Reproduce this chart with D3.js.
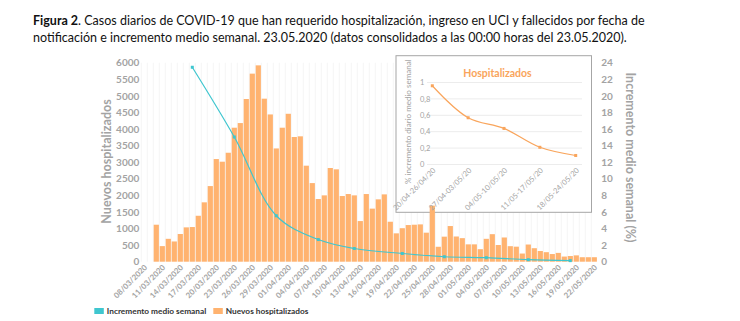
<!DOCTYPE html>
<html>
<head>
<meta charset="utf-8">
<script src="https://cdn.jsdelivr.net/npm/d3@7"></script>
<style>
  body { margin: 0; background: #fff; }
  text { font-family: Lato, "Noto Sans", sans-serif; }
</style>
</head>
<body>
<script>
// ---- datos ----
const fechas = d3.timeDay.range(new Date(2020, 2, 8), new Date(2020, 4, 23)).map(d3.timeFormat('%d/%m/%Y'));

// nuevos hospitalizados por fecha de notificación (08/03 .. 22/05)
const nuevos = [0, 0, 1115, 470, 690, 610, 835, 1035, 1045, 1385, 1790, 2280, 3095, 3015, 3285, 4040, 4180, 4905, 5670, 5920,
	4915, 4440, 3415, 4040, 4460, 3760, 3780, 2895, 2370, 1890, 2000, 2825, 2785, 1980, 2040, 2000, 1225, 2040, 1600, 1880,
	2030, 1205, 855, 1010, 1105, 1115, 1125, 875, 1690, 450, 755, 1075, 760, 710, 523, 523, 377, 690, 830, 503,
	730, 468, 453, 246, 518, 407, 322, 287, 231, 266, 155, 171, 191, 135, 135, 135];

// incremento medio semanal (%)
const fechasInc = ['16/03/2020', '23/03/2020', '30/03/2020', '06/04/2020', '12/04/2020', '20/04/2020', '27/04/2020', '04/05/2020', '11/05/2020', '18/05/2020'];
const incremento = [23.45, 15.04, 5.54, 2.67, 1.59, 0.99, 0.6, 0.48, 0.24, 0.13];

// recuadro: % incremento diario medio semanal
const semanas = ['20/04-26/04/20', '27/04-03/05/20', '04/05-10/05/20', '11/05-17/05/20', '18/05-24/05/20'];
const incSemanal = [0.96, 0.57, 0.44, 0.21, 0.11];

const ticksIzq = d3.range(0, 6001, 500);
const ticksDer = d3.range(0, 25, 2);
const ticksRecuadro = [0, 0.2, 0.4, 0.6, 0.8, 1];

// ---- svg ----
const W = 740, H = 321;
const naranja = '#ffb370', cian = '#3fc6cf', gris = '#a3a3a3';
const svg = d3.select('body').append('svg').attr('width', W).attr('height', H);

// título
const t1 = svg.append('text').attr('x', 33).attr('y', 25).style('font-size', '12.5px').attr('fill', '#111');
t1.append('tspan').attr('font-weight', 'bold').text('Figura 2');
t1.append('tspan').text('. Casos diarios de COVID-19 que han requerido hospitalización, ingreso en UCI y fallecidos por fecha de');
svg.append('text').attr('x', 33).attr('y', 42).style('font-size', '12.5px').attr('fill', '#111')
	.text('notificación e incremento medio semanal. 23.05.2020 (datos consolidados a las 00:00 horas del 23.05.2020).');

// escalas
const x = d3.scaleBand().domain(fechas).range([141.3, 597.3]);
const yL = d3.scaleLinear().domain([0, 6000]).range([261.7, 62.7]);
const yR = d3.scaleLinear().domain([0, 24]).range([261.7, 62.7]);
const cx = d => x(d) + x.bandwidth() / 2;

// líneas verticales muy tenues
svg.append('g').selectAll('line').data(fechas).join('line')
	.attr('x1', d => x(d)).attr('x2', d => x(d))
	.attr('y1', 62.7).attr('y2', 261.7)
	.attr('stroke', '#f5f5f5');

// recuadro (fondo blanco detrás de las barras)
const box = {x: 396, y: 55.7, w: 195.5, h: 156.6};
svg.append('rect').attr('x', box.x).attr('y', box.y).attr('width', box.w).attr('height', box.h)
	.attr('fill', '#fff').attr('stroke', '#a6a6a6').attr('stroke-width', 1);

// barras
svg.append('g').selectAll('rect').data(fechas).join('rect')
	.attr('x', d => x(d) + 0.4)
	.attr('width', x.bandwidth() - 0.8)
	.attr('y', (d, i) => yL(nuevos[i]))
	.attr('height', (d, i) => yL(0) - yL(nuevos[i]))
	.attr('fill', naranja);

// eje izquierdo
const gL = svg.append('g').attr('transform', 'translate(141.3,0)')
	.call(d3.axisLeft(yL).tickValues(ticksIzq).tickFormat(d3.format('d')).tickSize(0).tickPadding(2));
gL.select('.domain').remove();
gL.selectAll('text').attr('fill', gris).style('font-size', '10px').style('font-weight', 'bold').style('font-family', 'Lato');

// eje derecho
const gR = svg.append('g').attr('transform', 'translate(597.3,0)')
	.call(d3.axisRight(yR).tickValues(ticksDer).tickSize(0).tickPadding(4));
gR.select('.domain').remove();
gR.selectAll('text').attr('fill', gris).style('font-size', '10px').style('font-weight', 'bold').style('font-family', 'Lato');

// etiquetas de fecha cada 3 días
svg.append('g').selectAll('text').data(fechas.filter((d, i) => i % 3 === 0)).join('text')
	.attr('transform', d => `translate(${cx(d) + 1.5},266) rotate(-45)`)
	.attr('text-anchor', 'end').attr('dy', '0.35em')
	.style('font-size', '7.8px').style('font-weight', 'bold').attr('fill', gris)
	.text(d => d);

// títulos de ejes
svg.append('text').attr('transform', 'translate(111,161.5) rotate(-90)')
	.attr('text-anchor', 'middle').style('font-size', '12.5px').style('font-weight', 'bold').attr('fill', gris)
	.text('Nuevos hospitalizados');
svg.append('text').attr('transform', 'translate(626,157.5) rotate(90)')
	.attr('text-anchor', 'middle').style('font-size', '12.5px').style('font-weight', 'bold').attr('fill', gris)
	.text('Incremento medio semanal (%)');

// línea de incremento medio semanal
const inc = fechasInc.map((f, i) => ({f, v: incremento[i]}));
svg.append('path').datum(inc)
	.attr('d', d3.line().x(d => cx(d.f)).y(d => yR(d.v)).curve(d3.curveCatmullRom))
	.attr('fill', 'none').attr('stroke', cian).attr('stroke-width', 1.2);
svg.append('g').selectAll('rect').data(inc).join('rect')
	.attr('x', d => cx(d.f) - 1.5).attr('y', d => yR(d.v) - 1.5)
	.attr('width', 3).attr('height', 3).attr('fill', cian);

// ---- recuadro Hospitalizados ----
const xs = d3.scalePoint().domain(semanas).range([432.3, 575.7]);
const ys = d3.scaleLinear().domain([0, 1]).range([164.5, 82.5]);
svg.append('g').selectAll('line').data(ticksRecuadro).join('line')
	.attr('x1', 427).attr('x2', 582)
	.attr('y1', d => ys(d)).attr('y2', d => ys(d))
	.attr('stroke', '#ececec');
svg.append('g').selectAll('text').data(ticksRecuadro).join('text')
	.attr('x', 420).attr('y', d => ys(d)).attr('dy', '0.35em')
	.style('font-size', '7.5px').attr('fill', gris)
	.text(d => String(d).replace('.', ','));
svg.append('text').attr('transform', 'translate(411,121.7) rotate(-90)')
	.attr('text-anchor', 'middle').style('font-size', '8px').attr('fill', gris)
	.text('% incremento diario medio semanal');
svg.append('g').selectAll('text').data(semanas).join('text')
	.attr('transform', d => `translate(${xs(d) + 2},169) rotate(-45)`)
	.attr('text-anchor', 'end').attr('dy', '0.35em')
	.style('font-size', '7.5px').attr('fill', gris)
	.text(d => d);
svg.append('text').attr('x', 497.5).attr('y', 77).attr('text-anchor', 'middle')
	.style('font-size', '10.5px').style('font-weight', 'bold').attr('fill', '#f9a55c')
	.text('Hospitalizados');
const sem = semanas.map((s, i) => ({s, v: incSemanal[i]}));
svg.append('path').datum(sem)
	.attr('d', d3.line().x(d => xs(d.s)).y(d => ys(d.v)).curve(d3.curveCatmullRom))
	.attr('fill', 'none').attr('stroke', '#f9a55c').attr('stroke-width', 1.2);
svg.append('g').selectAll('rect').data(sem).join('rect')
	.attr('x', d => xs(d.s) - 1.5).attr('y', d => ys(d.v) - 1.5)
	.attr('width', 3).attr('height', 3).attr('fill', '#f9a55c');

// ---- leyenda ----
const leyenda = [{t: 'Incremento medio semanal', c: cian, x: 94.3}, {t: 'Nuevos hospitalizados', c: naranja, x: 213.3}];
const lg = svg.append('g').selectAll('g').data(leyenda).join('g')
	.attr('transform', d => `translate(${d.x},308)`);
lg.append('rect').attr('width', 9.5).attr('height', 6).attr('fill', d => d.c);
lg.append('text').attr('x', 12.5).attr('y', 3).attr('dy', '0.35em')
	.style('font-size', '8.3px').style('font-weight', 'bold').attr('fill', '#333')
	.text(d => d.t);
</script>
</body>
</html>
